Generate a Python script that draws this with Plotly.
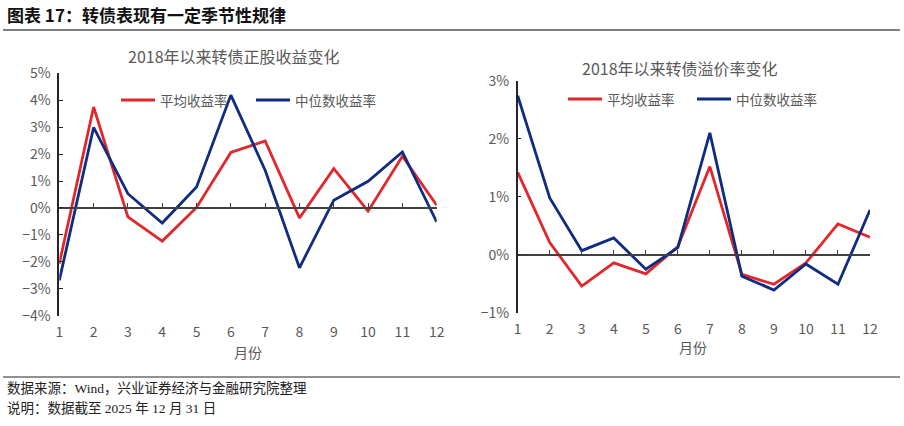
import plotly.graph_objects as go

# 月份
months = list(range(1, 13))
month_labels = [str(m) for m in months]

# 2018年以来转债正股收益变化 (%)
stock_avg = [-2.07, 3.75, -0.33, -1.23, 0.02, 2.06, 2.49, -0.37, 1.46, -0.12, 1.92, 0.10]
stock_median = [-2.69, 2.99, 0.53, -0.56, 0.78, 4.19, 1.40, -2.22, 0.29, 0.99, 2.08, -0.52]

# 2018年以来转债溢价率变化 (%)
prem_avg = [1.42, 0.21, -0.54, -0.14, -0.33, 0.14, 1.52, -0.34, -0.51, -0.14, 0.53, 0.30]
prem_median = [2.74, 0.98, 0.07, 0.29, -0.25, 0.12, 2.10, -0.37, -0.61, -0.16, -0.51, 0.77]

left_ticks = [-4, -3, -2, -1, 0, 1, 2, 3, 4, 5]
right_ticks = [-1, 0, 1, 2, 3]

RED = "#E3262A"
BLUE = "#0E2C82"
GRAY = "#595959"
FONT = "Noto Sans CJK SC"
W, H = 904, 426


def px(x):
    return x / W


def py(y):
    return 1 - y / H


fig = go.Figure()

# panel geometry in pixels: (x0, x1, ytop, ybottom)
panels = [
    dict(x=(59.3, 436.7), y=(73.3, 315.7), rng=(-4, 5), ticks=left_ticks,
         data=(stock_avg, stock_median), sfx="", sfx2="2", title="2018年以来转债正股收益变化",
         title_pos=(234, 56), leg_y=100, leg=(121, 256), xlab=(248, 352)),
    dict(x=(517.7, 870.0), y=(80.7, 312.7), rng=(-1, 3), ticks=right_ticks,
         data=(prem_avg, prem_median), sfx="3", sfx2="4", title="2018年以来转债溢价率变化",
         title_pos=(680, 68), leg_y=99, leg=(568, 697), xlab=(693, 347)),
]

layout = {}
for i, p in enumerate(panels):
    xa = "xaxis" + p["sfx"]
    ya = "yaxis" + p["sfx"]
    xa2 = "xaxis" + p["sfx2"]
    xref = "x" + p["sfx"]
    yref = "y" + p["sfx"]
    xref2 = "x" + p["sfx2"]
    dom_x = [px(p["x"][0]), px(p["x"][1])]
    dom_y = [py(p["y"][1]), py(p["y"][0])]
    lo, hi = p["rng"]
    zero_pos = dom_y[0] + (0 - lo) / (hi - lo) * (dom_y[1] - dom_y[0])

    layout[xa] = dict(domain=dom_x, range=[1, 12], anchor=yref, tickvals=months,
                      ticktext=month_labels, showline=False, showgrid=False,
                      zeroline=False, ticks="", ticklabelstandoff=6, automargin=False,
                      tickfont=dict(size=14, color=GRAY, family=FONT))
    layout[xa2] = dict(domain=dom_x, range=[1, 12], overlaying=xref, anchor="free",
                       position=zero_pos, tickvals=months, showticklabels=False,
                       showline=True, linecolor="#404040", linewidth=1.5,
                       ticks="inside", ticklen=4, tickwidth=1, tickcolor="#404040",
                       showgrid=False, zeroline=False, automargin=False)
    layout[ya] = dict(domain=dom_y, range=[lo, hi], anchor=xref, tickvals=p["ticks"],
                      ticktext=[("−" if t < 0 else "") + f"{abs(t)}%" for t in p["ticks"]],
                      showline=True, linecolor="#262626", linewidth=1.5, automargin=False,
                      ticks="inside", ticklen=4, tickcolor="#262626", showgrid=False,
                      zeroline=False, ticklabelstandoff=4,
                      tickfont=dict(size=14, color=GRAY, family=FONT))

    # dummy trace so the zero-line axis is drawn
    fig.add_trace(go.Scatter(x=[1, 12], y=[0, 0], xaxis=xref2, yaxis=yref, mode="lines",
                             line=dict(width=0), hoverinfo="skip", showlegend=False))
    avg, med = p["data"]
    fig.add_trace(go.Scatter(x=months, y=avg, xaxis=xref, yaxis=yref, mode="lines",
                             line=dict(color=RED, width=2.8), name="平均收益率",
                             showlegend=False))
    fig.add_trace(go.Scatter(x=months, y=med, xaxis=xref, yaxis=yref, mode="lines",
                             line=dict(color=BLUE, width=2.8), name="中位数收益率",
                             showlegend=False))

shapes = [
    dict(type="line", xref="paper", yref="paper", x0=px(3), x1=px(900), y0=py(30), y1=py(30),
         line=dict(color="#555555", width=1.5)),
    dict(type="line", xref="paper", yref="paper", x0=px(3), x1=px(900), y0=py(377), y1=py(377),
         line=dict(color="#222222", width=1)),
]
annotations = [
    dict(text="<b>图表 17：转债表现有一定季节性规律</b>", x=px(5), y=py(14), xref="paper", yref="paper",
         xanchor="left", yanchor="middle", showarrow=False,
         font=dict(size=17, color="#111111", family=FONT)),
    dict(text="数据来源：Wind，兴业证券经济与金融研究院整理", x=px(5), y=py(388), xref="paper",
         yref="paper", xanchor="left", yanchor="middle", showarrow=False,
         font=dict(size=13.5, color="#222222", family="Liberation Serif, " + FONT)),
    dict(text="说明：数据截至 2025 年 12 月 31 日", x=px(5), y=py(408), xref="paper",
         yref="paper", xanchor="left", yanchor="middle", showarrow=False,
         font=dict(size=13.5, color="#222222", family="Liberation Serif, " + FONT)),
]

for p in panels:
    annotations.append(dict(text=p["title"], x=px(p["title_pos"][0]), y=py(p["title_pos"][1]),
                            xref="paper", yref="paper", xanchor="center", yanchor="middle",
                            showarrow=False, font=dict(size=16, color=GRAY, family=FONT)))
    annotations.append(dict(text="月份", x=px(p["xlab"][0]), y=py(p["xlab"][1]),
                            xref="paper", yref="paper", xanchor="center", yanchor="middle",
                            showarrow=False, font=dict(size=14, color=GRAY, family=FONT)))
    for lx, name, color in [(p["leg"][0], "平均收益率", RED), (p["leg"][1], "中位数收益率", BLUE)]:
        shapes.append(dict(type="line", xref="paper", yref="paper", x0=px(lx), x1=px(lx + 34),
                           y0=py(p["leg_y"]), y1=py(p["leg_y"]), line=dict(color=color, width=2.8)))
        annotations.append(dict(text=name, x=px(lx + 37), y=py(p["leg_y"]), xref="paper",
                                yref="paper", xanchor="left", yanchor="middle", showarrow=False,
                                font=dict(size=13.5, color=GRAY, family=FONT)))

fig.update_layout(
    width=W, height=H,
    margin=dict(l=0, r=0, t=0, b=0),
    paper_bgcolor="white", plot_bgcolor="white",
    showlegend=False,
    shapes=shapes, annotations=annotations,
    **layout,
)

# drop the browser's default 8px body margin so the figure fills the window
fig.write_html("out.html", config={"displayModeBar": False},
               post_script="document.body.style.margin='0';")
